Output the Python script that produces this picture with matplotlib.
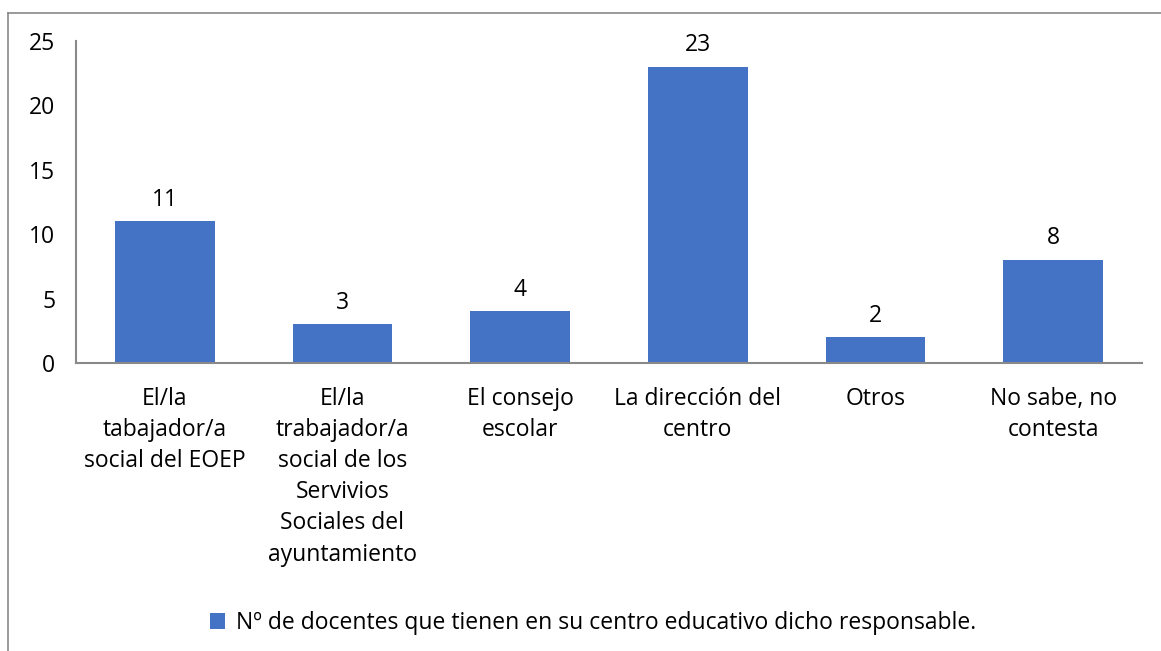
import matplotlib.pyplot as plt
from matplotlib.lines import Line2D

plt.rcParams['font.family'] = ['Open Sans', 'DejaVu Sans']

categories = ['El/la\ntabajador/a\nsocial del EOEP',
              'El/la\ntrabajador/a\nsocial de los\nServivios\nSociales del\nayuntamiento',
              'El consejo\nescolar',
              'La dirección del\ncentro',
              'Otros',
              'No sabe, no\ncontesta']
values = [11, 3, 4, 23, 2, 8]
series_name = 'Nº de docentes que tienen en su centro educativo dicho responsable.'

fs = 16.5

fig = plt.figure(figsize=(11.61, 6.51), dpi=100)
ax = fig.add_axes([76 / 1161, 1 - 363 / 651, (1142 - 76) / 1161, (363 - 41) / 651])

x = range(len(categories))
bars = ax.bar(x, values, width=0.56, color='#4472C4', label=series_name)
for xi, v in zip(x, values):
    ax.text(xi, v + 0.75, str(v), ha='center', va='bottom', fontsize=fs)

ax.set_xlim(-0.5, len(categories) - 0.5)
ax.set_ylim(0, 25)
ax.set_yticks([0, 5, 10, 15, 20, 25])
ax.set_xticks(list(x))
ax.set_xticklabels(categories, fontsize=fs, linespacing=1.4, va='top')
ax.tick_params(axis='y', length=0, pad=15, labelsize=fs)
ax.tick_params(axis='x', length=0, pad=17)

for s in ['top', 'right']:
    ax.spines[s].set_visible(False)
for s in ['left', 'bottom']:
    ax.spines[s].set_color('#898989')
    ax.spines[s].set_linewidth(1.5)

fig.legend(handles=[bars], labels=[series_name], loc='center',
           bbox_to_anchor=(593 / 1161, 1 - 623 / 651), frameon=False,
           fontsize=fs, handlelength=0.65, handleheight=0.65, handletextpad=0.5)

# chart area border
fig.add_artist(Line2D([8 / 1161, 1], [1 - 13 / 651, 1 - 13 / 651],
                      transform=fig.transFigure, color='#898989', lw=1.2))
fig.add_artist(Line2D([8 / 1161, 8 / 1161], [0, 1 - 13 / 651],
                      transform=fig.transFigure, color='#898989', lw=1.2))

fig.savefig('out.png', dpi=100)
